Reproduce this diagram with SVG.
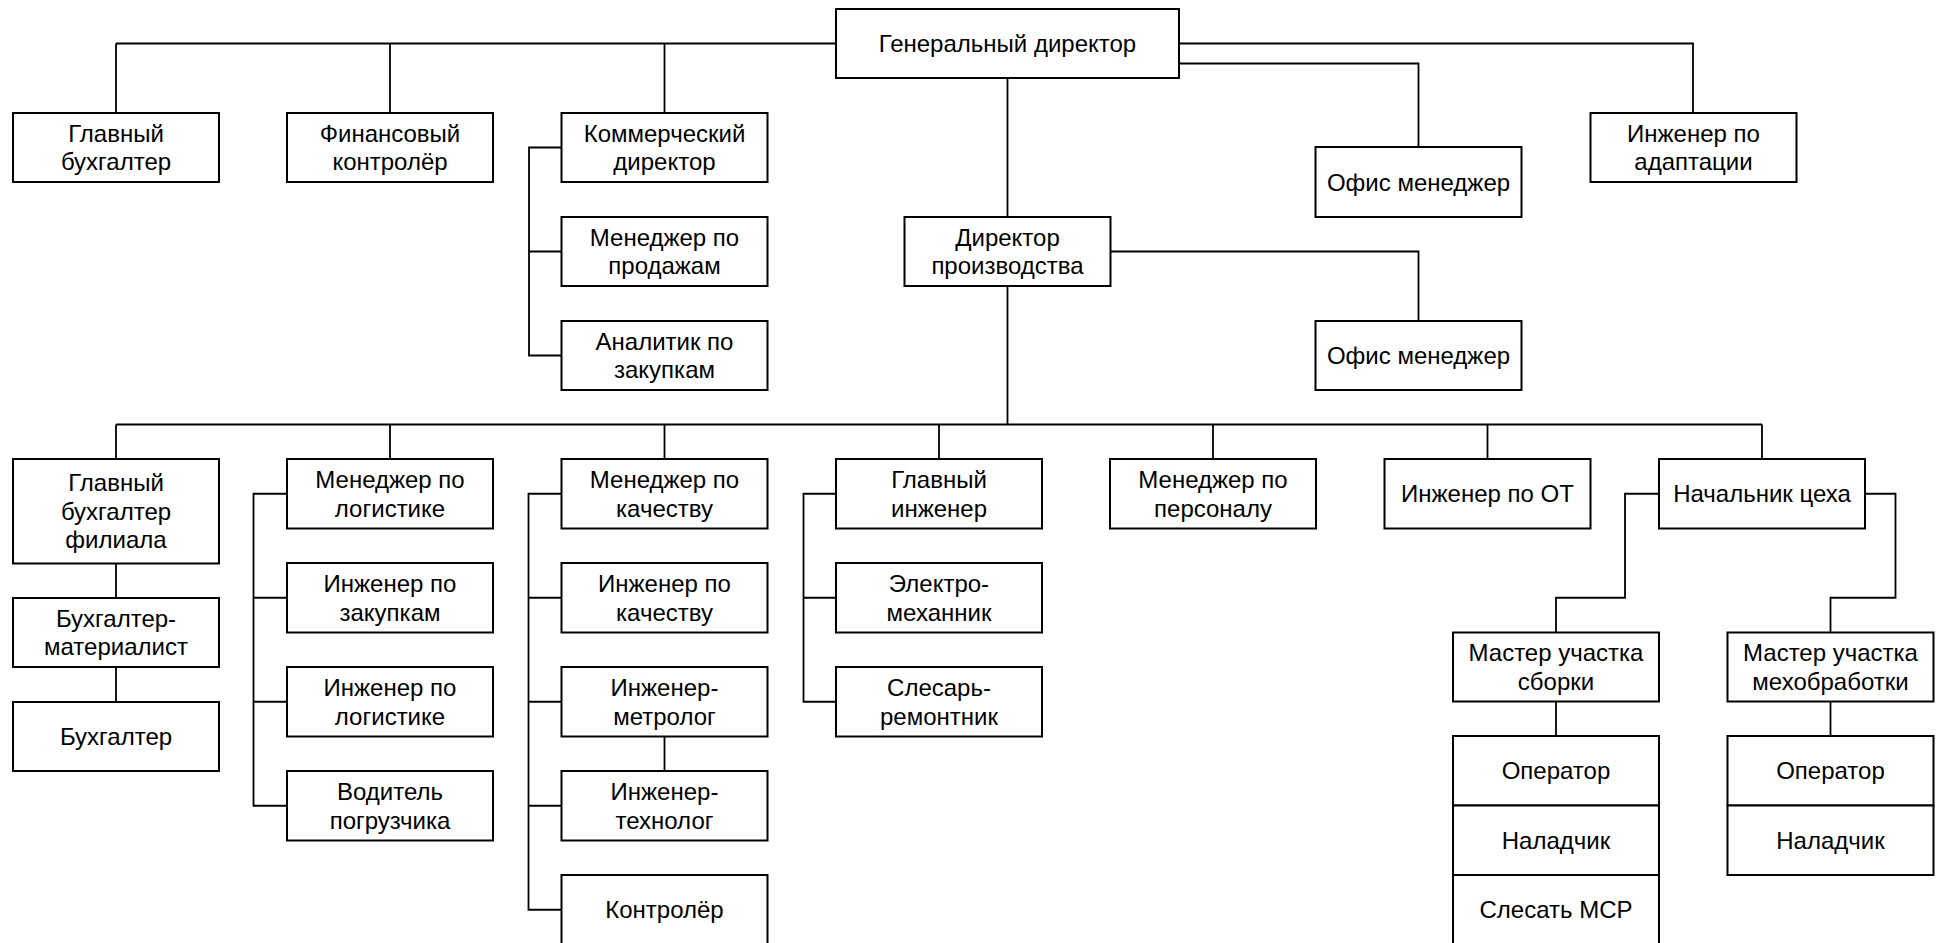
<svg xmlns="http://www.w3.org/2000/svg" width="1943" height="943" viewBox="0 0 1943 943">
<style>
.b{fill:#fff;stroke:#000;stroke-width:2}
.t{font-family:"Liberation Sans",Arial,sans-serif;font-size:24px;fill:#000;text-anchor:middle}
.c{fill:none;stroke:#000;stroke-width:1.8}
</style>
<rect width="1943" height="943" fill="#fff"/>
<g id="connectors" class="c">
<path d="M116 43.5H836M116 43.5V113M390 43.5V113M664.5 43.5V113"/>
<path d="M1179 43.5H1693V113M1179 63.5H1418.5V147"/>
<path d="M1007.5 78V217M1110.5 251.5H1418.5V321M1007.5 286V424.5"/>
<path d="M561.5 147.5H529V355.5H561.5M529 251.5H561.5"/>
<path d="M116 424.5H1762M116 424.5V459M390 424.5V459M664.5 424.5V459M939 424.5V459M1213 424.5V459M1487.5 424.5V459M1762 424.5V459"/>
<path d="M116 563.5V598M116 667V702"/>
<path d="M287 493.75H253.5V805.75H287M253.5 597.75H287M253.5 701.75H287"/>
<path d="M561.5 493.75H528.5V909.75H561.5M528.5 597.75H561.5M528.5 701.75H561.5M528.5 805.75H561.5M664.5 736.5V771"/>
<path d="M836 493.75H803.5V701.75H836M803.5 597.75H836"/>
<path d="M1659 493.75H1625V597.75H1556V632.5M1865 493.75H1895.5V597.75H1830.5V632.5"/>
<path d="M1556 701.5V736M1830.5 701.5V736"/>
</g>
<g id="gd"><rect class="b" x="836" y="9" width="343" height="69"/><text class="t" x="1007.5" y="52.1">Генеральный директор</text></g>
<g id="gb"><rect class="b" x="13" y="113" width="206" height="69"/><text class="t" x="116" y="141.9">Главный<tspan x="116" y="170.4">бухгалтер</tspan></text></g>
<g id="fk"><rect class="b" x="287" y="113" width="206" height="69"/><text class="t" x="390" y="141.9">Финансовый<tspan x="390" y="170.4">контролёр</tspan></text></g>
<g id="kd"><rect class="b" x="561.5" y="113" width="206" height="69"/><text class="t" x="664.5" y="141.9">Коммерческий<tspan x="664.5" y="170.4">директор</tspan></text></g>
<g id="mp"><rect class="b" x="561.5" y="217" width="206" height="69"/><text class="t" x="664.5" y="245.9">Менеджер по<tspan x="664.5" y="274.4">продажам</tspan></text></g>
<g id="az"><rect class="b" x="561.5" y="321" width="206" height="69"/><text class="t" x="664.5" y="349.9">Аналитик по<tspan x="664.5" y="378.4">закупкам</tspan></text></g>
<g id="om1"><rect class="b" x="1315.5" y="147" width="206" height="70"/><text class="t" x="1418.5" y="190.6">Офис менеджер</text></g>
<g id="ia"><rect class="b" x="1590.5" y="113" width="206" height="69"/><text class="t" x="1693.5" y="141.9">Инженер по<tspan x="1693.5" y="170.4">адаптации</tspan></text></g>
<g id="dp"><rect class="b" x="904.5" y="217" width="206" height="69"/><text class="t" x="1007.5" y="245.9">Директор<tspan x="1007.5" y="274.4">производства</tspan></text></g>
<g id="om2"><rect class="b" x="1315.5" y="321" width="206" height="69"/><text class="t" x="1418.5" y="364.1">Офис менеджер</text></g>
<g id="gbf"><rect class="b" x="13" y="459" width="206" height="104.5"/><text class="t" x="116" y="491.3">Главный<tspan x="116" y="519.8">бухгалтер</tspan><tspan x="116" y="548.3">филиала</tspan></text></g>
<g id="bm"><rect class="b" x="13" y="598" width="206" height="69"/><text class="t" x="116" y="626.9">Бухгалтер-<tspan x="116" y="655.4">материалист</tspan></text></g>
<g id="bu"><rect class="b" x="13" y="702" width="206" height="69"/><text class="t" x="116" y="745.1">Бухгалтер</text></g>
<g id="ml"><rect class="b" x="287" y="459" width="206" height="69.5"/><text class="t" x="390" y="488.1">Менеджер по<tspan x="390" y="516.6">логистике</tspan></text></g>
<g id="iz"><rect class="b" x="287" y="563" width="206" height="69.5"/><text class="t" x="390" y="592.1">Инженер по<tspan x="390" y="620.6">закупкам</tspan></text></g>
<g id="il"><rect class="b" x="287" y="667" width="206" height="69.5"/><text class="t" x="390" y="696.1">Инженер по<tspan x="390" y="724.6">логистике</tspan></text></g>
<g id="vp"><rect class="b" x="287" y="771" width="206" height="69.5"/><text class="t" x="390" y="800.1">Водитель<tspan x="390" y="828.6">погрузчика</tspan></text></g>
<g id="mk"><rect class="b" x="561.5" y="459" width="206" height="69.5"/><text class="t" x="664.5" y="488.1">Менеджер по<tspan x="664.5" y="516.6">качеству</tspan></text></g>
<g id="ik"><rect class="b" x="561.5" y="563" width="206" height="69.5"/><text class="t" x="664.5" y="592.1">Инженер по<tspan x="664.5" y="620.6">качеству</tspan></text></g>
<g id="im"><rect class="b" x="561.5" y="667" width="206" height="69.5"/><text class="t" x="664.5" y="696.1">Инженер-<tspan x="664.5" y="724.6">метролог</tspan></text></g>
<g id="it"><rect class="b" x="561.5" y="771" width="206" height="69.5"/><text class="t" x="664.5" y="800.1">Инженер-<tspan x="664.5" y="828.6">технолог</tspan></text></g>
<g id="kon"><rect class="b" x="561.5" y="875" width="206" height="69.5"/><text class="t" x="664.5" y="918.4">Контролёр</text></g>
<g id="gi"><rect class="b" x="836" y="459" width="206" height="69.5"/><text class="t" x="939" y="488.1">Главный<tspan x="939" y="516.6">инженер</tspan></text></g>
<g id="em"><rect class="b" x="836" y="563" width="206" height="69.5"/><text class="t" x="939" y="592.1">Электро-<tspan x="939" y="620.6">механник</tspan></text></g>
<g id="sr"><rect class="b" x="836" y="667" width="206" height="69.5"/><text class="t" x="939" y="696.1">Слесарь-<tspan x="939" y="724.6">ремонтник</tspan></text></g>
<g id="mper"><rect class="b" x="1110" y="459" width="206" height="69.5"/><text class="t" x="1213" y="488.1">Менеджер по<tspan x="1213" y="516.6">персоналу</tspan></text></g>
<g id="iot"><rect class="b" x="1384.5" y="459" width="206" height="69.5"/><text class="t" x="1487.5" y="502.4">Инженер по ОТ</text></g>
<g id="nc"><rect class="b" x="1659" y="459" width="206" height="69.5"/><text class="t" x="1762" y="502.4">Начальник цеха</text></g>
<g id="mus"><rect class="b" x="1453" y="632.5" width="206" height="69"/><text class="t" x="1556" y="661.4">Мастер участка<tspan x="1556" y="689.9">сборки</tspan></text></g>
<g id="mum"><rect class="b" x="1727.5" y="632.5" width="206" height="69"/><text class="t" x="1830.5" y="661.4">Мастер участка<tspan x="1830.5" y="689.9">мехобработки</tspan></text></g>
<g id="op1"><rect class="b" x="1453" y="736" width="206" height="69.5"/><text class="t" x="1556" y="779.4">Оператор</text></g>
<g id="nal1"><rect class="b" x="1453" y="805.5" width="206" height="69.5"/><text class="t" x="1556" y="848.9">Наладчик</text></g>
<g id="sl"><rect class="b" x="1453" y="875" width="206" height="69.5"/><text class="t" x="1556" y="918.4">Слесать МСР</text></g>
<g id="op2"><rect class="b" x="1727.5" y="736" width="206" height="69.5"/><text class="t" x="1830.5" y="779.4">Оператор</text></g>
<g id="nal2"><rect class="b" x="1727.5" y="805.5" width="206" height="69.5"/><text class="t" x="1830.5" y="848.9">Наладчик</text></g>
</svg>
